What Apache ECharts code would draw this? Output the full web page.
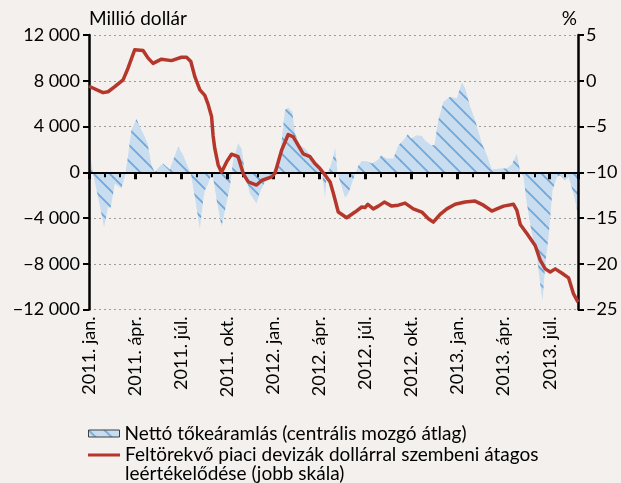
<!DOCTYPE html>
<html>
<head>
<meta charset="utf-8">
<script src="https://cdn.jsdelivr.net/npm/echarts@6/dist/echarts.min.js"></script>
<style>
html,body{margin:0;padding:0;background:#f3f0ed;}
#c{width:621px;height:483px;}
</style>
</head>
<body>
<div id="c"></div>
<script>
// Quarter labels on the x axis (one every 3 months from 2011. jan.)
var tickLabels = ['2011. jan.', '2011. ápr.', '2011. júl.', '2011. okt.', '2012. jan.', '2012. ápr.', '2012. júl.', '2012. okt.', '2013. jan.', '2013. ápr.', '2013. júl.'];

// Net capital flow (centred moving average), million USD; x = months since 2011 Jan
var flowMonths = [0, 0.26, 0.59, 0.98, 1.24, 1.41, 1.68, 2.11, 2.33, 2.50, 2.76, 3.09, 3.31, 3.63, 3.81, 4.07, 4.28, 4.61, 4.82, 5.26, 5.80, 6.13, 6.35, 6.63, 6.89, 7.22, 7.43, 7.54, 7.76, 7.93, 8.08, 8.32, 8.63, 9.17, 9.39, 9.71, 9.93, 10.15, 10.48, 10.91, 11.13, 11.45, 11.89, 12.22, 12.43, 12.76, 12.97, 13.23, 13.41, 13.74, 14.06, 14.50, 14.93, 15.15, 15.37, 15.48, 15.63, 15.91, 16.02, 16.19, 16.67, 16.88, 17.21, 17.54, 17.76, 18.08, 18.41, 18.84, 19.02, 19.39, 19.82, 20.14, 20.47, 20.76, 20.97, 21.34, 21.67, 21.88, 22.28, 22.49, 22.75, 23.08, 23.51, 23.95, 24.28, 24.49, 24.82, 25.14, 25.58, 25.91, 26.23, 26.88, 27.21, 27.54, 27.86, 28.08, 28.29, 28.51, 28.84, 29.17, 29.38, 29.53, 29.71, 29.92, 30.18, 30.47, 30.68, 31.01, 31.23, 31.55, 31.84];
var flowValues = [2300, -100, -2170, -4800, -3040, -3100, -990, -1430, -410, 1050, 3680, 4650, 3970, 3100, 2520, 615, 0, 525, 760, 240, 2220, 1490, 760, -120, -2170, -4940, -2460, -1600, -1000, -300, -400, -2500, -4740, -1290, 1050, 2520, 2080, 0, -1870, -2740, -1730, -850, -100, 615, 1340, 5440, 5670, 5290, 3390, 2370, 2080, 1340, 615, 175, -2170, -100, 175, 1340, 2150, -100, -2200, -1870, -600, 600, 990, 960, 760, 1110, 1490, 1200, 1200, 2370, 2800, 3330, 2950, 3240, 3160, 2800, 2370, 2370, 4560, 6170, 6600, 6460, 7850, 7340, 5700, 4560, 2520, 1490, 250, 325, 325, 700, 1600, 0, -410, -2740, -5370, -7430, -9760, -11230, -8000, -5670, -1580, -410, -260, -700, -410, -1870, -3700];

// EM currencies' average depreciation vs USD, % (right scale)
var fxMonths = [0, 0.91, 1.24, 1.68, 2.22, 2.54, 2.98, 3.52, 3.85, 4.17, 4.72, 5.37, 6.02, 6.35, 6.63, 6.89, 7.22, 7.54, 7.74, 7.98, 8.08, 8.19, 8.41, 8.63, 8.96, 9.28, 9.71, 10.04, 10.37, 10.91, 11.24, 11.89, 12.11, 12.54, 12.97, 13.30, 13.95, 14.39, 14.71, 15.04, 15.37, 15.70, 15.91, 16.23, 16.78, 17.32, 17.76, 17.97, 18.15, 18.51, 18.84, 19.23, 19.71, 20.14, 20.58, 21.12, 21.67, 22.10, 22.42, 22.86, 23.30, 23.84, 24.49, 25.14, 25.68, 26.23, 26.56, 26.99, 27.64, 27.86, 28.08, 28.51, 29.05, 29.38, 29.71, 30.03, 30.36, 30.80, 31.23, 31.55, 31.84];
var fxValues = [-0.6, -1.3, -1.2, -0.65, 0.1, 1.37, 3.4, 3.3, 2.47, 1.9, 2.36, 2.2, 2.57, 2.57, 2.1, 0.45, -1.0, -1.6, -2.5, -3.9, -6.0, -7.4, -9.2, -10.0, -8.87, -8.03, -8.3, -10.15, -11.06, -11.4, -10.9, -10.5, -10.1, -7.6, -5.87, -6.13, -8.0, -8.3, -9.05, -9.6, -10.3, -11.06, -12.3, -14.35, -14.97, -14.35, -13.8, -13.86, -13.5, -14.0, -13.7, -13.26, -13.7, -13.6, -13.37, -14.0, -14.35, -15.08, -15.45, -14.6, -14.0, -13.5, -13.26, -13.15, -13.6, -14.24, -14.0, -13.7, -13.5, -14.17, -15.7, -16.7, -18.0, -19.6, -20.56, -20.9, -20.56, -21.04, -21.55, -23.3, -24.2];

var flowName = 'Nettó tőkeáramlás (centrális mozgó átlag)';
var fxName = 'Feltörekvő piaci devizák dollárral szembeni átagos\nleértékelődése (jobb skála)';
var leftUnit = 'Millió dollár';
var rightUnit = '%';

function makePattern() {
  var s = 16;
  var cv = document.createElement('canvas');
  cv.width = s; cv.height = s;
  var g = cv.getContext('2d');
  g.fillStyle = '#c8ddf0';
  g.fillRect(0, 0, s, s);
  g.strokeStyle = '#72a6d6';
  g.lineWidth = 1.8;
  for (var k = -1; k <= 1; k++) {
    g.beginPath();
    g.moveTo(k * s - 2, -2);
    g.lineTo(k * s + s + 2, s + 2);
    g.stroke();
  }
  return cv;
}
var pattern = makePattern();

function pairs(xs, ys) { return xs.map(function (x, i) { return [x, ys[i]]; }); }
function minus(n) { return (n < 0 ? '\u2212' : '') + Math.abs(n); }
function fmtThousands(v) {
  var a = Math.abs(v), s = String(a);
  if (a >= 1000) s = s.slice(0, s.length - 3) + ' ' + s.slice(-3);
  return (v < 0 ? '\u2212' : '') + s;
}

var FONT = 'Lato';
var TICK_FS = 18, TEXT_FS = 19;
var chart = echarts.init(document.getElementById('c'), null, { renderer: 'canvas' });
var xMax = 31.84;
var yMinL = -12000, yMaxL = 12000;
var plotTop = 35, plotBottom = 173.5;
var zeroFromBottom = 483 - (plotTop + (483 - plotBottom - plotTop) * (yMaxL / (yMaxL - yMinL)));

chart.setOption({
  animation: false,
  backgroundColor: '#f3f0ed',
  textStyle: { fontFamily: FONT, color: '#000' },
  grid: [
    { left: 89, right: 43, top: plotTop, bottom: plotBottom, containLabel: false },
    { left: 89, right: 43, top: plotTop, bottom: zeroFromBottom, containLabel: false }
  ],
  graphic: [
    { type: 'text', left: 89, top: 9, z: 50, style: { text: leftUnit, font: TEXT_FS + 'px ' + FONT, fill: '#000' } },
    { type: 'text', right: 44, top: 9, z: 50, style: { text: rightUnit, font: TEXT_FS + 'px ' + FONT, fill: '#000' } },
    { type: 'text', left: 125, top: 464, z: 50, style: { text: fxName.split('\n')[1], font: TEXT_FS + 'px ' + FONT, fill: '#000' } }
  ],
  legend: [
    {
      left: 88, top: 423.5, orient: 'vertical', itemGap: 0, padding: 0,
      itemWidth: 31, itemHeight: 7, icon: 'rect',
      data: [{ name: flowName, itemStyle: { color: { image: pattern, repeat: 'repeat' }, borderColor: '#404040', borderWidth: 1 } }],
      textStyle: { fontFamily: FONT, fontSize: TEXT_FS, color: '#000', lineHeight: 20 },
      selectedMode: false
    },
    {
      left: 88, top: 445, orient: 'vertical', itemGap: 0, padding: 0,
      itemWidth: 32, itemHeight: 3, icon: 'rect',
      data: [{ name: fxName, itemStyle: { color: '#b5372b' } }],
      formatter: function (n) { return n.split('\n')[0]; },
      textStyle: { fontFamily: FONT, fontSize: TEXT_FS, color: '#000', lineHeight: 20 },
      selectedMode: false
    }
  ],
  xAxis: [
    {
      type: 'value', gridIndex: 0, min: 0, max: xMax, interval: 3, position: 'bottom',
      axisLine: { show: false, onZero: false }, axisTick: { show: false }, splitLine: { show: false },
      axisLabel: {
        rotate: 90, margin: 7, fontFamily: FONT, fontSize: TICK_FS, color: '#000', showMaxLabel: false,
        formatter: function (v) { var i = v / 3; return (Math.abs(i - Math.round(i)) < 1e-6 && tickLabels[Math.round(i)]) || ''; }
      }
    },
    {
      type: 'value', gridIndex: 1, min: 0, max: xMax, interval: 1, position: 'bottom', z: 10,
      axisLine: { show: true, onZero: false, lineStyle: { color: '#000', width: 2 } },
      axisTick: { show: true, length: 5, lineStyle: { color: '#000', width: 2 } },
      axisLabel: { show: false }, splitLine: { show: false }
    },
    {
      type: 'value', gridIndex: 1, min: 0, max: xMax, interval: 3, position: 'bottom', z: 10,
      axisLine: { show: false, onZero: false },
      axisTick: { show: true, length: 7, lineStyle: { color: '#000', width: 3 } },
      axisLabel: { show: false }, splitLine: { show: false }
    }
  ],
  yAxis: [
    {
      type: 'value', gridIndex: 0, min: yMinL, max: yMaxL, interval: 4000, position: 'left', z: 10,
      axisLine: { show: true, lineStyle: { color: '#000', width: 2.5 } },
      axisTick: { show: true, length: 6, lineStyle: { color: '#000', width: 2 } },
      axisLabel: { margin: 9, fontFamily: FONT, fontSize: TICK_FS, color: '#000', formatter: fmtThousands },
      splitLine: { show: false }
    },
    {
      type: 'value', gridIndex: 0, min: -25, max: 5, interval: 5, position: 'right', z: 10,
      axisLine: { show: true, lineStyle: { color: '#000', width: 2.5 } },
      axisTick: { show: true, length: 6, lineStyle: { color: '#000', width: 2 } },
      axisLabel: { margin: 8, fontFamily: FONT, fontSize: TICK_FS, color: '#000', formatter: minus },
      splitLine: { show: false }
    },
    {
      type: 'value', gridIndex: 0, min: yMinL, max: yMaxL, interval: 4000, position: 'left', z: 0,
      axisLine: { show: false }, axisTick: { show: false }, axisLabel: { show: false },
      splitLine: { show: true, lineStyle: { color: '#9c9c9c', width: 1, type: [2, 3] } }
    },
    {
      type: 'value', gridIndex: 1, min: 0, max: 1, show: false
    }
  ],
  series: [
    {
      name: flowName, type: 'line', xAxisIndex: 0, yAxisIndex: 0,
      data: pairs(flowMonths, flowValues),
      symbol: 'none', smooth: false,
      lineStyle: { width: 0, opacity: 0 },
      itemStyle: { color: '#c8ddf0' },
      areaStyle: { color: { image: pattern, repeat: 'repeat' }, opacity: 1 },
      z: 2
    },
    {
      name: fxName, type: 'line', xAxisIndex: 0, yAxisIndex: 1,
      data: pairs(fxMonths, fxValues),
      symbol: 'none', smooth: false,
      lineStyle: { width: 3.5, color: '#b5372b', join: 'round' },
      itemStyle: { color: '#b5372b' },
      z: 20
    }
  ]
});
</script>
</body>
</html>
